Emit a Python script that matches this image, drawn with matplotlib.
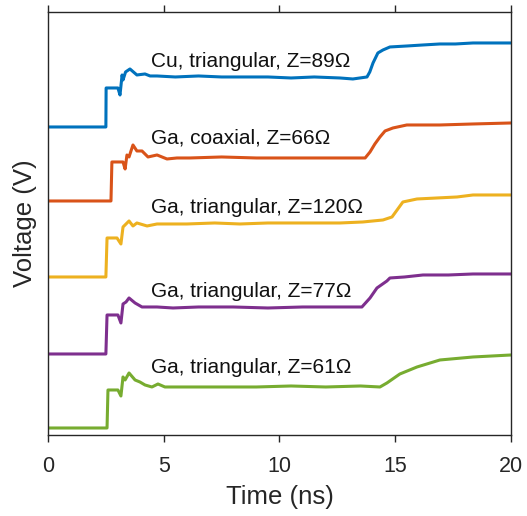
import matplotlib.pyplot as plt

plt.rcParams["font.family"] = ["Liberation Sans", "DejaVu Sans"]

# TDR step responses, traces stacked with an offset (arbitrary volts)
t_cu = [0, 2.5, 2.51, 3.02, 3.11, 3.2, 3.24, 3.35, 3.54, 3.84, 4.19, 4.41, 4.71, 5.5, 6.5,
        7.5, 8.29, 9.5, 10.5, 11.5, 12.61, 13.17, 13.78, 13.9, 14.04, 14.25, 14.47, 14.77,
        15.51, 16.2, 16.93, 17.6, 18.36, 19.2, 20]
v_cu = [3.08, 3.08, 3.47, 3.47, 3.40, 3.60, 3.55, 3.63, 3.66, 3.60, 3.61, 3.59, 3.59, 3.58, 3.59,
        3.58, 3.58, 3.58, 3.57, 3.58, 3.57, 3.56, 3.58, 3.63, 3.72, 3.82, 3.85, 3.88,
        3.89, 3.90, 3.91, 3.91, 3.92, 3.92, 3.92]

t_coax = [0, 2.72, 2.76, 3.24, 3.33, 3.41, 3.5, 3.67, 3.84, 4.06, 4.32, 4.71, 5.14, 5.57,
          6.13, 7.5, 9.0, 10.5, 12.0, 13.2, 13.7, 13.91, 14.12, 14.34, 14.56, 14.9, 15.5,
          16.93, 18.36, 20]
v_coax = [2.34, 2.34, 2.73, 2.73, 2.66, 2.80, 2.78, 2.90, 2.84, 2.84, 2.78, 2.80, 2.76, 2.77,
          2.77, 2.78, 2.77, 2.77, 2.77, 2.77, 2.77, 2.83, 2.91, 2.98, 3.04, 3.07, 3.10,
          3.10, 3.11, 3.12]

t_tri120 = [0, 2.5, 2.55, 2.98, 3.15, 3.24, 3.5, 3.67, 3.84, 4.28, 4.71, 6.0, 7.2, 8.29,
            9.5, 11.0, 12.61, 13.6, 14.47, 14.86, 15.08, 15.33, 15.94, 16.8, 17.67, 18.36, 20]
v_tri120 = [1.58, 1.58, 1.97, 1.97, 1.91, 2.08, 2.14, 2.09, 2.12, 2.09, 2.11, 2.11, 2.12, 2.11,
            2.12, 2.12, 2.12, 2.13, 2.15, 2.18, 2.25, 2.33, 2.36, 2.37, 2.38, 2.40, 2.40]

t_tri77 = [0, 2.5, 2.55, 3.02, 3.15, 3.24, 3.37, 3.5, 3.76, 4.06, 4.71, 5.4, 6.5, 8.0, 9.5,
           11.0, 12.5, 13.56, 13.91, 14.21, 14.64, 14.77, 15.4, 16.2, 17.3, 18.36, 20]
v_tri77 = [0.81, 0.81, 1.20, 1.20, 1.12, 1.31, 1.33, 1.37, 1.32, 1.28, 1.28, 1.27, 1.28, 1.28, 1.27,
           1.28, 1.28, 1.28, 1.37, 1.47, 1.54, 1.57, 1.58, 1.60, 1.60, 1.61, 1.61]

t_tri61 = [0, 2.55, 2.59, 3.02, 3.15, 3.24, 3.33, 3.5, 3.76, 3.97, 4.19, 4.49, 4.75, 5.05,
           6.0, 7.5, 9.0, 10.5, 12.0, 13.5, 14.34, 14.64, 15.2, 15.94, 16.93, 18.36, 20]
v_tri61 = [0.07, 0.07, 0.45, 0.45, 0.39, 0.58, 0.55, 0.62, 0.55, 0.53, 0.50, 0.48, 0.51, 0.48,
           0.48, 0.48, 0.48, 0.49, 0.48, 0.49, 0.48, 0.52, 0.61, 0.68, 0.75, 0.78, 0.80]

labels = ["Cu, triangular, Z=89Ω", "Ga, coaxial, Z=66Ω", "Ga, triangular, Z=120Ω",
          "Ga, triangular, Z=77Ω", "Ga, triangular, Z=61Ω"]
label_t = 4.45
label_v = [3.73, 2.97, 2.27, 1.43, 0.67]

colors = ["#0072BD", "#D95319", "#EDB120", "#7E2F8E", "#77AC30"]
traces = [(t_cu, v_cu), (t_coax, v_coax), (t_tri120, v_tri120),
          (t_tri77, v_tri77), (t_tri61, v_tri61)]

fig = plt.figure(figsize=(5.27, 5.16), dpi=100)
ax = fig.add_axes([0.0911, 0.157, 0.8785, 0.8198])

for (t, v), c in zip(traces, colors):
    ax.plot(t, v, color=c, linewidth=2.2)

for lab, y in zip(labels, label_v):
    ax.text(label_t, y, lab, fontsize=15, color="#111111", va="center", ha="left")

ax.set_xlim(0, 20)
ax.set_ylim(0, 4.23)
ax.set_xticks([0, 5, 10, 15, 20])
ax.set_yticks([])
ax.tick_params(axis="x", direction="out", top=True, length=5, width=1,
               labelsize=15.5, colors="#262626", pad=10)
for s in ax.spines.values():
    s.set_color("#262626")
    s.set_linewidth(1)

ax.set_xlabel("Time (ns)", fontsize=18.5, color="#262626", labelpad=6)
ax.set_ylabel("Voltage (V)", fontsize=18.5, color="#262626", labelpad=8)

fig.savefig("out.png", dpi=100)
